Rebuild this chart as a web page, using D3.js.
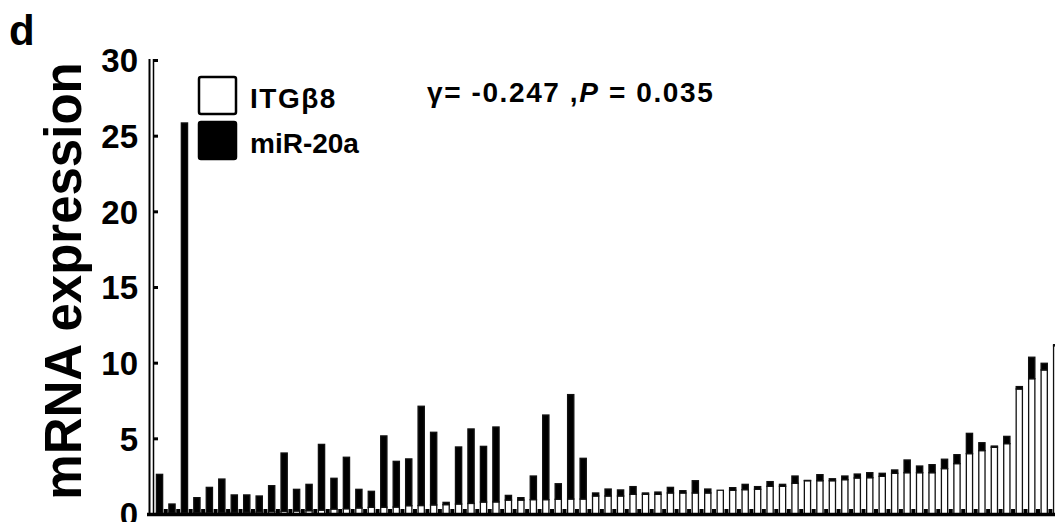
<!DOCTYPE html>
<html>
<head>
<meta charset="utf-8">
<script src="https://cdn.jsdelivr.net/npm/d3@7"></script>
<style>
  body { margin: 0; background: #fff; }
  svg { display: block; font-family: "Liberation Sans", Arial, sans-serif; }
</style>
</head>
<body>
<script>
// ITGb8 (white, bottom) and miR-20a (black, stacked on top), one value per sample
var itgb8 = [0.05, 0.06, 0.07, 0.08, 0.09, 0.10, 0.11, 0.12, 0.13, 0.15,
  0.17, 0.20, 0.22, 0.26, 0.33, 0.35, 0.40, 0.44, 0.45, 0.46,
  0.55, 0.56, 0.60, 0.62, 0.66, 0.70, 0.79, 0.80, 0.92, 0.92,
  0.95, 0.95, 0.97, 0.99, 0.99, 1.19, 1.19, 1.19, 1.30, 1.30,
  1.30, 1.39, 1.39, 1.39, 1.39, 1.57, 1.57, 1.61, 1.63, 1.83,
  1.83, 2.03, 2.20, 2.20, 2.20, 2.27, 2.38, 2.40, 2.49, 2.69,
  2.73, 2.73, 2.73, 3.00, 3.33, 3.99, 4.19, 4.41, 4.65, 8.26,
  8.94, 9.52, 11.12];

var mir20a = [2.57, 0.60, 25.77, 1.00, 1.67, 2.21, 1.15, 1.14, 1.06, 1.72,
  3.86, 1.43, 1.74, 4.34, 2.03, 3.40, 1.23, 1.06, 4.71, 3.02,
  3.09, 6.56, 4.80, 0.15, 3.77, 4.92, 3.68, 4.95, 0.31, 0.16,
  1.56, 5.59, 1.03, 6.90, 2.69, 0.20, 0.46, 0.40, 0.51, 0.09,
  0.15, 0.37, 0.15, 0.81, 0.26, 0.00, 0.17, 0.35, 0.18, 0.31,
  0.13, 0.48, 0.02, 0.40, 0.13, 0.24, 0.26, 0.33, 0.20, 0.22,
  0.84, 0.44, 0.53, 0.62, 0.59, 1.34, 0.52, 0.08, 0.48, 0.16,
  1.42, 0.44, 0.07];

var samples = itgb8.map(function(d, i) { return i + 1; });
var yTicks = [0, 5, 10, 15, 20, 25, 30];
var legendItems = [{name: "ITG\u03b28", fill: "#fff"}, {name: "miR-20a", fill: "#000"}];

var width = 1055, height = 522;

var rows = samples.map(function(s, i) {
  return {sample: s, itgb8: itgb8[i], mir20a: mir20a[i]};
});
var series = d3.stack().keys(["itgb8", "mir20a"])(rows);

var x = d3.scaleBand()
    .domain(samples)
    .range([153.3, 1062.9])
    .paddingInner(0.5)
    .paddingOuter(0.25);

var y = d3.scaleLinear()
    .domain([0, 30])
    .range([514, 60]);

var svg = d3.select("body").append("svg")
    .attr("width", width)
    .attr("height", height);

// bars
svg.append("g")
  .selectAll("g")
  .data(series)
  .enter().append("g")
    .attr("fill", function(d) { return d.key == "itgb8" ? "#fff" : "#000"; })
    .attr("stroke", "#111")
    .attr("stroke-width", 1.3)
  .selectAll("rect")
  .data(function(d) { return d.filter(function(p) { return p[1] - p[0] > 0; }); })
  .enter().append("rect")
    .attr("x", function(d) { return x(d.data.sample); })
    .attr("width", x.bandwidth())
    .attr("y", function(d) { return y(d[1]); })
    .attr("height", function(d) { return y(d[0]) - y(d[1]); });

// little tick blocks between the bars
svg.append("g")
  .selectAll("rect")
  .data(samples.slice(1))
  .enter().append("rect")
    .attr("x", function(d) { return x(d) - x.step() * 0.25 - 2; })
    .attr("y", 509)
    .attr("width", 4)
    .attr("height", 5)
    .attr("fill", "#000");

// x axis line
svg.append("line")
    .attr("x1", 147).attr("x2", width)
    .attr("y1", 514.5).attr("y2", 514.5)
    .attr("stroke", "#000").attr("stroke-width", 3.5);

// y axis: double line with inward ticks
svg.append("line")
    .attr("x1", 149.5).attr("x2", 149.5)
    .attr("y1", 59).attr("y2", 516)
    .attr("stroke", "#000").attr("stroke-width", 2);
svg.append("line")
    .attr("x1", 153.5).attr("x2", 153.5)
    .attr("y1", 59).attr("y2", 516)
    .attr("stroke", "#000").attr("stroke-width", 1.5);

var yAxis = svg.append("g")
    .attr("transform", "translate(153,0)")
    .call(d3.axisLeft(y).tickValues(yTicks).tickSize(-5).tickPadding(15));
yAxis.select(".domain").remove();
yAxis.selectAll(".tick line").attr("stroke-width", 3);
yAxis.selectAll(".tick text")
    .attr("font-family", "Liberation Sans, Arial, sans-serif")
    .attr("font-size", 33)
    .attr("font-weight", "bold")
    .attr("fill", "#000")
    .attr("dy", "0.36em");

// y title
svg.append("text")
    .attr("transform", "translate(81,281) rotate(-90)")
    .attr("text-anchor", "middle")
    .attr("font-size", 51)
    .attr("font-weight", "bold")
    .text("mRNA expression");

// panel letter
svg.append("text")
    .attr("x", 9).attr("y", 45)
    .attr("font-size", 42)
    .attr("font-weight", "bold")
    .text("d");

// legend
var legend = svg.append("g")
  .selectAll("g")
  .data(legendItems)
  .enter().append("g")
    .attr("transform", function(d, i) { return "translate(199," + (77 + i * 45) + ")"; });
legend.append("rect")
    .attr("width", 37).attr("height", 37)
    .attr("rx", 2)
    .attr("fill", function(d) { return d.fill; })
    .attr("stroke", "#000").attr("stroke-width", 2.5);
legend.append("text")
    .attr("x", 51).attr("y", 31)
    .attr("font-size", 28)
    .attr("font-weight", "bold")
    .attr("letter-spacing", function(d, i) { return i == 0 ? 1.5 : 0; })
    .text(function(d) { return d.name; });

// correlation note
var note = svg.append("text")
    .attr("x", 427).attr("y", 102)
    .attr("font-size", 28)
    .attr("letter-spacing", 1.6)
    .attr("font-weight", "bold");
note.append("tspan").text("\u03b3= -0.247 ,");
note.append("tspan").attr("font-style", "italic").text("P");
note.append("tspan").text(" = 0.035");
</script>
</body>
</html>
